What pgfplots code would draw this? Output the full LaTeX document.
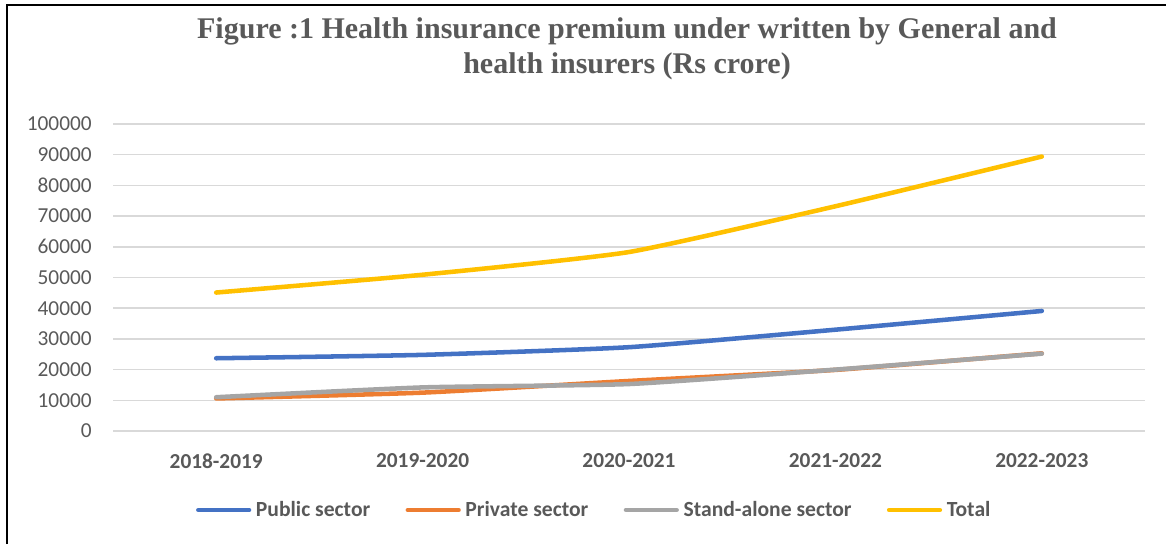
\documentclass[border=0pt]{standalone}
\usepackage{fontspec}
\setmainfont{Carlito}
\newfontfamily\titlefont{Liberation Serif}
\usepackage{pgfplots}
\pgfplotsset{compat=1.18}
\definecolor{cblue}{HTML}{4472C4}
\definecolor{corange}{HTML}{ED7D31}
\definecolor{cgray}{HTML}{A5A5A5}
\definecolor{cyellow}{HTML}{FFC000}
\definecolor{txt}{HTML}{595959}
\definecolor{gridc}{HTML}{D9D9D9}
\begin{document}
\begin{tikzpicture}
\path[use as bounding box] (0,0) rectangle (874.5pt,408pt);
\draw[line width=1.5pt, black] (5.6pt,0pt) -- (5.6pt,404.25pt) -- (874.5pt,404.25pt);
\node[anchor=base, font=\titlefont\bfseries\fontsize{22.5pt}{27pt}\selectfont, text=txt, inner sep=0pt]
  at (470.25pt,378.75pt) {Figure :1 Health insurance premium under written by General and};
\node[anchor=base, font=\titlefont\bfseries\fontsize{22.5pt}{27pt}\selectfont, text=txt, inner sep=0pt]
  at (470.25pt,352.5pt) {health insurers (Rs crore)};
\begin{axis}[
  at={(84.75pt,84.75pt)}, anchor=south west,
  scale only axis, width=774pt, height=230.25pt,
  xmin=-0.5, xmax=4.5, ymin=0, ymax=100000,
  axis line style={draw=none},
  major tick length=0pt,
  xtick={0,1,2,3,4},
  xticklabels={2018-2019,2019-2020,2020-2021,2021-2022,2022-2023},
  ytick={0,10000,...,100000},
  scaled y ticks=false,
  /pgf/number format/assume math mode=true,
  /pgf/number format/fixed,
  /pgf/number format/set thousands separator={},
  ymajorgrids,
  grid style={gridc, line width=1.1pt},
  ticklabel style={font=\fontsize{16pt}{19pt}\selectfont, text=txt, inner sep=0pt},
  yticklabel style={anchor=east, xshift=-15.75pt},
  xticklabel style={anchor=north, yshift=-17pt, font=\bfseries\fontsize{16pt}{19pt}\selectfont},
  legend columns=4,
  legend style={at={(0.4654,-0.2573)}, anchor=center, draw=none, fill=none, inner sep=0pt,
    font=\bfseries\fontsize{16.2pt}{19pt}\selectfont, text=txt,
    nodes={inner sep=0pt, anchor=west},
    /tikz/every odd column/.append style={column sep=3.5pt},
    /tikz/every even column/.append style={column sep=26.5pt}},
  legend cell align=left,
  legend image code/.code={\draw[#1] (0pt,0pt) -- (38pt,0pt);},
  every axis plot/.append style={line width=3.4pt, line cap=round, line join=round, smooth, tension=0.3, no markers},
  clip=false,
]
\addplot[cblue] coordinates {(0,23700) (1,24800) (2,27300) (3,33000) (4,39100)};
\addlegendentry{Public sector}
\addplot[corange] coordinates {(0,10600) (1,12500) (2,16300) (3,19900) (4,25300)};
\addlegendentry{Private sector}
\addplot[cgray] coordinates {(0,11000) (1,14200) (2,15300) (3,20000) (4,25200)};
\addlegendentry{Stand-alone sector}
\addplot[cyellow] coordinates {(0,45100) (1,50900) (2,58300) (3,73200) (4,89400)};
\addlegendentry{Total}
\end{axis}
\end{tikzpicture}
\end{document}
